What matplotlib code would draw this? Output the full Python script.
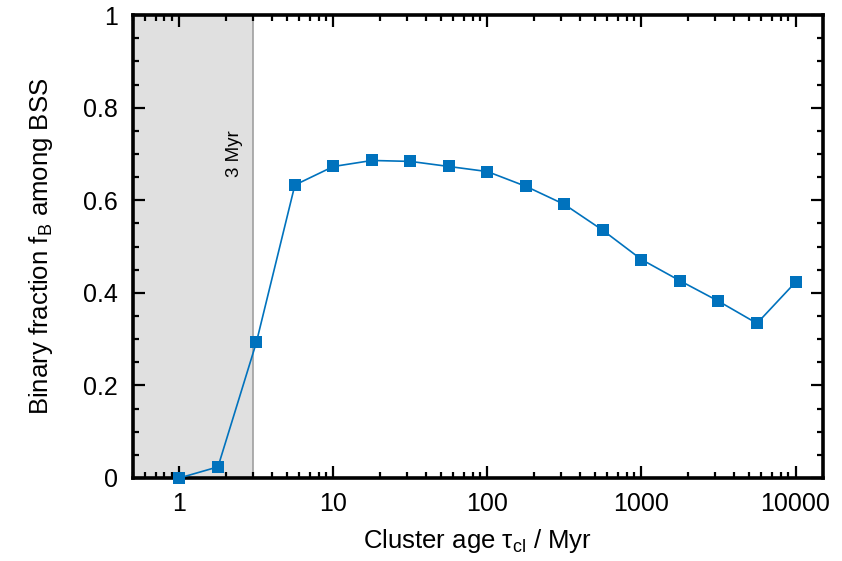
import matplotlib
matplotlib.use('Agg')
import matplotlib.pyplot as plt
from matplotlib.ticker import LogLocator, MultipleLocator, FixedLocator, NullFormatter
import numpy as np

plt.rcParams['font.family'] = ['Liberation Sans', 'DejaVu Sans']
plt.rcParams['mathtext.fontset'] = 'custom'
plt.rcParams['mathtext.rm'] = 'Liberation Sans'
plt.rcParams['mathtext.it'] = 'Liberation Sans:italic'

# cluster ages (Myr) and binary fractions
ages = [1, 1.78, 3.16, 5.62, 10, 17.8, 31.6, 56.2, 100, 178, 316, 562,
        1000, 1780, 3160, 5620, 10000]
fb = [0.0, 0.024, 0.293, 0.633, 0.673, 0.686, 0.684, 0.673, 0.662, 0.630,
      0.591, 0.535, 0.472, 0.426, 0.382, 0.334, 0.423]
cut_age = 3
xticks = [1, 10, 100, 1000, 10000]
xticklabels = ['1', '10', '100', '1000', '10000']
yticks = [0, 0.2, 0.4, 0.6, 0.8, 1]
yticklabels = ['0', '0.2', '0.4', '0.6', '0.8', '1']

fig = plt.figure(figsize=(8.42, 5.61), dpi=100)
ax = fig.add_axes([0.158, 0.148, 0.819, 0.825])

ax.axvspan(0.5, cut_age, color='#e0e0e0', zorder=0, lw=0)
ax.axvline(cut_age, color='#a0a0a0', lw=1.2, zorder=1)
ax.annotate('3 Myr', xy=(cut_age, 0.70), xytext=(-7, 0), textcoords='offset points',
            rotation=90, ha='right', va='center', fontsize=13.5)

ax.plot(ages, fb, color='#0072bd', lw=1.2, marker='s', markersize=8.8,
        markeredgewidth=0, clip_on=False, zorder=3)

ax.set_xscale('log')
ax.set_xlim(0.5, 15000)
ax.set_ylim(0, 1)
ax.xaxis.set_major_locator(FixedLocator(xticks))
ax.set_xticklabels(xticklabels)
ax.xaxis.set_minor_locator(LogLocator(base=10, subs=np.arange(2, 10), numticks=20))
ax.xaxis.set_minor_formatter(NullFormatter())
ax.set_yticks(yticks)
ax.set_yticklabels(yticklabels)
ax.yaxis.set_minor_locator(MultipleLocator(0.05))

ax.tick_params(which='both', direction='in', top=True, right=True,
               labelsize=18, width=1.6)
ax.tick_params(which='major', length=8.5)
ax.tick_params(which='minor', length=4.5)
ax.tick_params(axis='x', which='major', pad=10)
ax.tick_params(axis='y', which='major', pad=11)
for s in ax.spines.values():
    s.set_linewidth(2.6)

ax.set_xlabel(r'Cluster age τ$_\mathrm{cl}$ / Myr', fontsize=18.5, labelpad=8)
ax.set_ylabel(r'Binary fraction f$_\mathrm{B}$ among BSS', fontsize=18.5, labelpad=20)

fig.savefig('out.png', dpi=100)
